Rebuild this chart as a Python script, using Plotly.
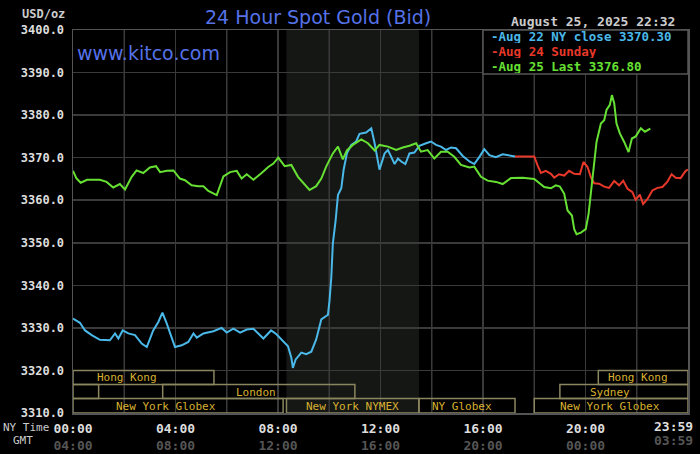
import plotly.graph_objects as go

# ---------------- data (hours NY time, price USD/oz) ----------------
aug22_t = [0.0, 0.27, 0.47, 0.73, 1.05, 1.44, 1.64, 1.77, 1.94, 2.16, 2.42, 2.68, 2.88, 3.13, 3.33, 3.49,
           3.66, 3.79, 3.98, 4.24, 4.5, 4.7, 4.83, 5.09, 5.48, 5.8, 6.0, 6.26, 6.52, 6.78, 7.04, 7.43,
           7.73, 7.94, 8.19, 8.39, 8.52, 8.58, 8.69, 8.91, 9.1, 9.3, 9.49, 9.69, 9.95, 10.01, 10.08,
           10.14, 10.25, 10.34, 10.47, 10.56, 10.69, 10.86, 11.05, 11.18, 11.44, 11.64, 11.77, 11.86,
           11.96, 12.16, 12.29, 12.42, 12.55, 12.68, 12.81, 12.97, 13.13, 13.32, 13.52, 13.78, 13.97,
           14.17, 14.36, 14.56, 14.75, 14.95, 15.21, 15.47, 15.66, 15.86, 16.05, 16.25, 16.5, 16.77,
           17.03, 17.25]
aug22_p = [3332.2, 3331.2, 3329.4, 3328.3, 3327.2, 3327.1, 3328.7, 3327.5, 3329.4, 3328.7, 3328.3, 3326.3,
           3325.5, 3329.4, 3331.4, 3333.6, 3331.0, 3328.7, 3325.5, 3325.9, 3326.7, 3328.7, 3327.7, 3328.7,
           3329.2, 3330.0, 3328.9, 3329.8, 3328.9, 3329.6, 3329.8, 3327.5, 3329.4, 3328.5, 3326.9, 3325.7,
           3323.0, 3320.6, 3322.6, 3324.2, 3323.8, 3324.4, 3327.3, 3332.0, 3333.1, 3336.4, 3341.9, 3349.8,
           3355.3, 3361.2, 3362.8, 3367.1, 3371.0, 3373.0, 3373.8, 3375.6, 3375.9, 3376.9, 3373.4, 3370.2,
           3367.2, 3371.0, 3371.8, 3370.2, 3368.5, 3369.8, 3369.1, 3368.5, 3371.0, 3371.2, 3372.8, 3373.4,
           3373.8, 3373.0, 3372.6, 3371.8, 3372.4, 3372.2, 3370.4, 3369.1, 3368.5, 3370.2, 3372.0, 3370.6,
           3370.1, 3370.8, 3370.6, 3370.3]

aug24_t = [17.25, 18.0, 18.13, 18.26, 18.45, 18.65, 18.78, 18.97, 19.17, 19.36, 19.56, 19.78, 19.92, 20.08,
           20.21, 20.34, 20.53, 20.73, 20.92, 21.12, 21.31, 21.47, 21.64, 21.83, 21.96, 22.12, 22.25, 22.42,
           22.61, 22.81, 23.0, 23.19, 23.36, 23.52, 23.71, 23.91, 24.0]
aug24_p = [3370.3, 3370.3, 3368.2, 3366.4, 3366.9, 3366.2, 3365.3, 3366.1, 3365.8, 3366.9, 3366.2, 3366.1,
           3369.0, 3367.8, 3365.4, 3364.0, 3363.9, 3363.2, 3362.9, 3364.5, 3363.5, 3364.6, 3362.7, 3361.9,
           3360.1, 3361.3, 3359.1, 3360.3, 3362.3, 3362.9, 3363.1, 3364.3, 3366.1, 3365.3, 3365.2, 3366.9,
           3367.2]

aug25_t = [0.0, 0.13, 0.3, 0.55, 1.05, 1.31, 1.57, 1.83, 2.03, 2.29, 2.48, 2.74, 3.0, 3.24, 3.4, 3.66, 3.92,
           4.17, 4.37, 4.63, 4.89, 5.09, 5.28, 5.61, 5.87, 6.13, 6.39, 6.58, 6.78, 7.04, 7.36, 7.62, 7.82,
           8.01, 8.26, 8.52, 8.78, 9.04, 9.23, 9.49, 9.69, 9.88, 10.14, 10.34, 10.53, 10.69, 10.92, 11.25,
           11.51, 11.77, 11.96, 12.29, 12.61, 12.87, 13.13, 13.39, 13.58, 13.84, 14.1, 14.36, 14.62, 14.88,
           15.14, 15.47, 15.66, 15.92, 16.18, 16.51, 16.77, 17.09, 17.55, 18.0, 18.19, 18.39, 18.65, 18.84,
           19.0, 19.17, 19.3, 19.47, 19.56, 19.65, 19.82, 20.01, 20.12, 20.21, 20.3, 20.38, 20.43, 20.6,
           20.73, 20.82, 20.95, 21.03, 21.12, 21.21, 21.34, 21.51, 21.68, 21.81, 21.96, 22.16, 22.32, 22.53]
aug25_p = [3366.9, 3365.2, 3364.1, 3364.8, 3364.8, 3364.3, 3363.0, 3363.8, 3362.5, 3365.5, 3367.0, 3366.4,
           3367.7, 3368.0, 3366.6, 3366.9, 3367.0, 3365.1, 3364.7, 3363.5, 3363.3, 3363.3, 3362.2, 3361.2,
           3365.6, 3366.6, 3366.9, 3365.1, 3366.1, 3364.8, 3366.4, 3367.8, 3368.6, 3370.0, 3368.0, 3368.3,
           3365.5, 3363.8, 3362.4, 3363.3, 3365.1, 3367.9, 3371.0, 3372.6, 3369.6, 3371.7, 3373.0, 3374.3,
           3373.4, 3371.7, 3373.0, 3372.6, 3371.8, 3372.4, 3372.8, 3373.4, 3371.4, 3371.8, 3369.8, 3371.4,
           3371.4, 3370.2, 3368.3, 3367.7, 3367.9, 3365.5, 3364.6, 3364.3, 3363.8, 3365.2, 3365.3, 3365.0,
           3364.0, 3363.1, 3362.8, 3363.5, 3363.2, 3361.5, 3357.6, 3356.4, 3353.2, 3352.0, 3352.4, 3353.2,
           3356.8, 3361.5, 3366.2, 3370.9, 3373.7, 3378.0, 3378.8, 3381.2, 3382.4, 3384.7, 3382.8, 3378.0,
           3375.7, 3373.7, 3371.3, 3374.5, 3375.0, 3376.9, 3376.1, 3376.8]

series_names = ["Aug 22 NY close 3370.30", "Aug 24 Sunday", "Aug 25 Last 3376.80"]
series_colors = ["#4ab8e8", "#e8382a", "#66e033"]

y_ticks = [3310, 3320, 3330, 3340, 3350, 3360, 3370, 3380, 3390, 3400]
x_tick_vals = [0, 4, 8, 12, 16, 20]
x_tick_ny = ["00:00", "04:00", "08:00", "12:00", "16:00", "20:00"]
x_tick_gmt = ["04:00", "08:00", "12:00", "16:00", "20:00", "00:00"]

# session boxes: (start h, end h, row, label, label centre h)
sessions = [
    (0.0, 5.5, 0, "Hong Kong", 2.11),
    (20.5, 24.0, 0, "Hong Kong", 22.05),
    (0.0, 1.0, 1, "", None),
    (3.5, 11.0, 1, "London", 7.16),
    (19.0, 24.0, 1, "Sydney", 20.96),
    (0.0, 8.2, 2, "New York Globex", 3.64),
    (8.33, 13.5, 2, "New York NYMEX", 10.9),
    (13.5, 17.25, 2, "NY Globex", 15.18),
    (18.0, 24.0, 2, "New York Globex", 20.96),
]
row_edges = [(3316.7, 3320.0), (3313.4, 3316.7), (3310.0, 3313.4)]
nymex_shade = (8.33, 13.5)

# ---------------- figure ----------------
fig = go.Figure()
for t, p, name, col in zip([aug22_t, aug24_t, aug25_t], [aug22_p, aug24_p, aug25_p],
                           series_names, series_colors):
    fig.add_trace(go.Scatter(x=t, y=p, mode="lines", name=name,
                             line=dict(color=col, width=2), hoverinfo="skip"))

shapes = []
shapes.append(dict(type="rect", xref="x", yref="paper", x0=nymex_shade[0], x1=nymex_shade[1],
                   y0=0, y1=1, fillcolor="#151715", line=dict(width=0), layer="below"))
box_col = "#8a8660"
txt_col = "#d8b030"
annotations = []
for s0, s1, row, label, cx in sessions:
    lo, hi = row_edges[row]
    shapes.append(dict(type="rect", xref="x", yref="y", x0=s0, x1=s1, y0=lo, y1=hi,
                       line=dict(color=box_col, width=1.5), fillcolor="rgba(0,0,0,0)", layer="above"))
    if label:
        annotations.append(dict(x=cx, y=(lo + hi) / 2, xref="x", yref="y", text=label, showarrow=False,
                                font=dict(family="DejaVu Sans Mono", size=11, color=txt_col),
                                xanchor="center", yanchor="middle", height=12, borderpad=0))

# paper px conversions: plot domain x 73..688, y 30..413
def px_x(px):
    return (px - 73) / 615.0

def px_y(py):
    return (413 - py) / 383.0

shapes.append(dict(type="rect", xref="paper", yref="paper", x0=px_x(483), x1=px_x(688),
                   y0=px_y(74), y1=px_y(30), fillcolor="#000000", line=dict(color="#555555", width=1.5),
                   layer="above"))
for i, (name, col) in enumerate(zip(series_names, series_colors)):
    annotations.append(dict(x=px_x(490), y=px_y(37 + 14.5 * i), xref="paper", yref="paper",
                            text="<b>-" + name + "</b>", showarrow=False, xanchor="left", yanchor="middle",
                            height=13, borderpad=0,
                            font=dict(family="DejaVu Sans Mono", size=12.5, color=col)))

# titles and labels
annotations += [
    dict(x=px_x(318), y=px_y(17), xref="paper", yref="paper", text="24 Hour Spot Gold (Bid)",
         showarrow=False, xanchor="center", yanchor="middle",
         font=dict(family="DejaVu Sans", size=19, color="#5572e8")),
    dict(x=px_x(75), y=px_y(53), xref="paper", yref="paper", text="www.kitco.com",
         showarrow=False, xanchor="left", yanchor="middle",
         font=dict(family="DejaVu Sans", size=19, color="#5572e8")),
    dict(x=px_x(677), y=px_y(21), xref="paper", yref="paper", text="<b>August 25, 2025 22:32</b>",
         showarrow=False, xanchor="right", yanchor="middle",
         font=dict(family="DejaVu Sans Mono", size=13, color="#cccccc")),
    dict(x=px_x(67), y=px_y(14), xref="paper", yref="paper", text="<b>USD/oz</b>",
         showarrow=False, xanchor="right", yanchor="middle",
         font=dict(family="DejaVu Sans Mono", size=12, color="#cccccc")),
    dict(x=px_x(2), y=px_y(427), xref="paper", yref="paper", text="NY Time",
         showarrow=False, xanchor="left", yanchor="middle", borderpad=0,
         font=dict(family="DejaVu Sans Mono", size=11, color="#cccccc")),
    dict(x=px_x(12), y=px_y(441), xref="paper", yref="paper", text="GMT",
         showarrow=False, xanchor="left", yanchor="middle", borderpad=0,
         font=dict(family="DejaVu Sans Mono", size=11, color="#cccccc")),
    dict(x=px_x(694), y=px_y(426), xref="paper", yref="paper", text="<b>23:59</b>",
         showarrow=False, xanchor="right", yanchor="middle", borderpad=0,
         font=dict(family="DejaVu Sans Mono", size=13, color="#dddddd")),
    dict(x=px_x(694), y=px_y(441), xref="paper", yref="paper", text="<b>03:59</b>",
         showarrow=False, xanchor="right", yanchor="middle", borderpad=0,
         font=dict(family="DejaVu Sans Mono", size=13, color="#555555")),
]

tick_text = ["<b>%s</b><br><span style='color:#555555'><b>%s</b></span>" % (a, b)
             for a, b in zip(x_tick_ny, x_tick_gmt)]

fig.update_layout(
    width=700, height=454, autosize=False,
    margin=dict(l=73, r=12, t=30, b=41, pad=0),
    paper_bgcolor="#000000", plot_bgcolor="#000000",
    showlegend=False,
    shapes=shapes, annotations=annotations,
    xaxis=dict(range=[0, 24], tickvals=x_tick_vals, ticktext=tick_text,
               showgrid=True, gridcolor="#3a3a3a", gridwidth=1.5,
               zeroline=False, showline=True, linecolor="#555555", linewidth=1.5, mirror=True,
               ticks="outside", ticklen=3, tickcolor="#000000", automargin=False,
               tickfont=dict(family="DejaVu Sans Mono", size=13, color="#dddddd"), fixedrange=True),
    yaxis=dict(range=[3310, 3400], tickvals=y_ticks, ticktext=["<b>%.1f</b>" % v for v in y_ticks],
               showgrid=True, gridcolor="#3a3a3a", gridwidth=1.5, zeroline=False,
               showline=True, linecolor="#555555", linewidth=1.5, mirror=True,
               ticks="outside", ticklen=5, tickcolor="#000000", automargin=False,
               tickfont=dict(family="DejaVu Sans Mono", size=12, color="#dddddd"), fixedrange=True),
)

# vertical gridlines every 2h between labelled ticks
for h in [2, 6, 10, 14, 18, 22]:
    fig.add_shape(type="line", xref="x", yref="paper", x0=h, x1=h, y0=0, y1=1,
                  line=dict(color="#3a3a3a", width=1.5), layer="below")

fig.write_html("out.html", config={"displayModeBar": False, "staticPlot": True},
               post_script="document.body.style.margin='0px';document.body.style.overflow='hidden';")
